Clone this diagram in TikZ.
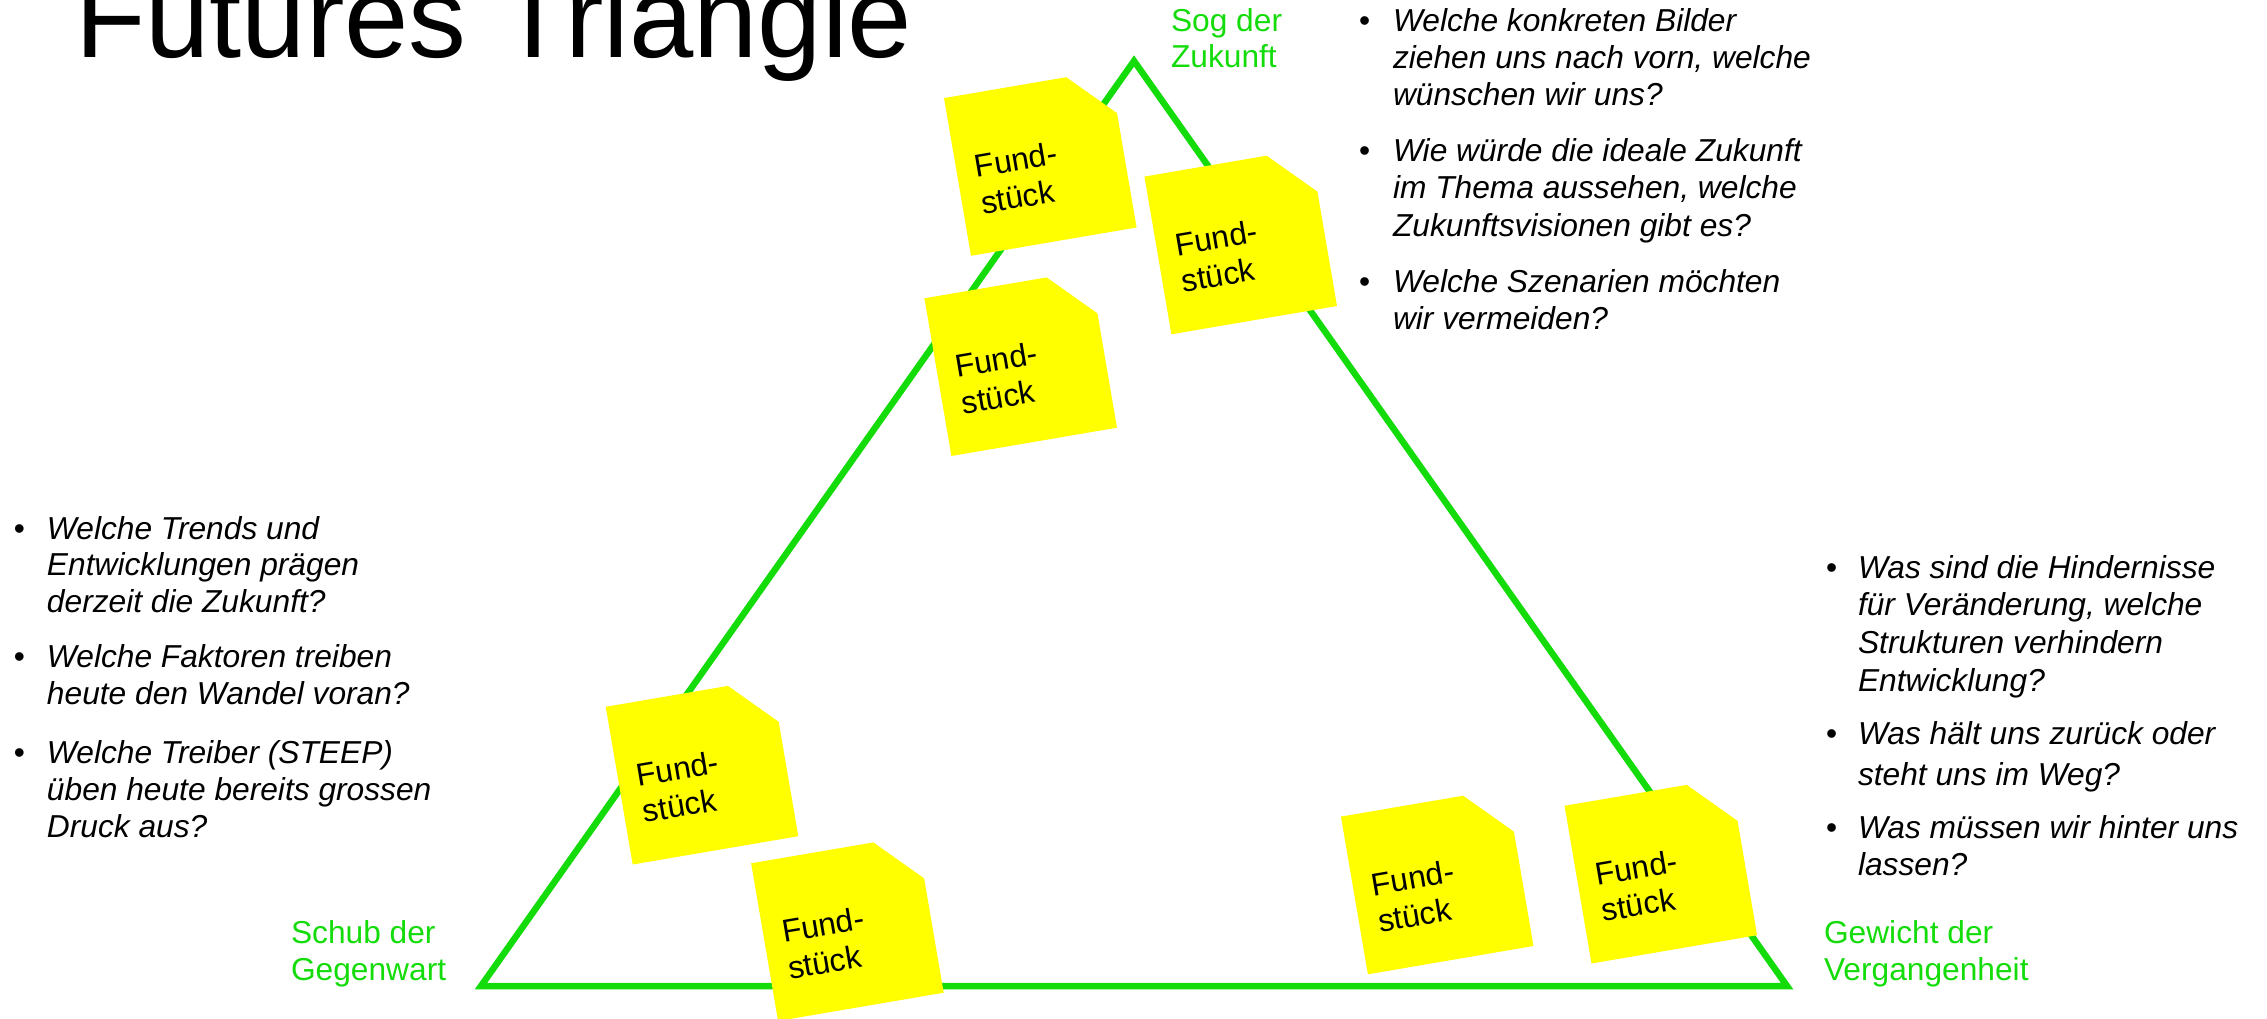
\documentclass[tikz,border=0pt]{standalone}
\usepackage{fontspec}
\setmainfont{Liberation Sans}

\definecolor{triGreen}{RGB}{20,220,10}
\definecolor{noteYellow}{RGB}{255,255,0}

\newcommand\bodyfont{\fontsize{9.02pt}{10pt}\selectfont}
\newcommand\notefont{\fontsize{9.02pt}{10.53pt}\selectfont}
\newcommand\askfont{\fontsize{9.02pt}{10pt}\selectfont\itshape}
\newcommand\headfont{\fontsize{32.86pt}{36pt}\selectfont}

\tikzset{
  textline/.style = {anchor=base west, inner sep=0pt, outer sep=0pt},
  ask/.style      = {textline, font=\askfont, text=black},
  bulletdot/.style= {textline, font=\bodyfont, text=black},
  corner/.style   = {textline, font=\bodyfont, text=triGreen},
  notetext/.style = {textline, font=\notefont, align=left, transform shape},
  % yellow note with a cut top-right corner, centred on the pic origin;
  % the text node is placed by the baseline of its last line
  sticky/.pic = {
    \fill[noteYellow] (-84,-80) -- (40,-80) -- (84,-36) -- (84,80) -- (-84,80) -- cycle;
    \node[notetext] (-text) at (-65,41) {Fund-\\stück};
  }
}

\begin{document}
\begin{tikzpicture}[x=0.01cm, y=-0.01cm]
\useasboundingbox (0,0) rectangle (2267,1019);

% title
\node[textline, font=\headfont] (title) at (75,58) {Futures Triangle};

% triangle
\coordinate (top)   at (1134,61);
\coordinate (left)  at (481,986);
\coordinate (right) at (1787,986);
\draw[triGreen, line width=0.065cm] (top) -- (left) -- (right) -- cycle;

% corner labels
\node[corner] (sog1) at (1171,32) {Sog der};
\node[corner] (sog2) at (1171,68) {Zukunft};
\node[corner] (schub1) at (291,943) {Schub der};
\node[corner] (schub2) at (291,980) {Gegenwart};
\node[corner] (gew1) at (1824,943) {Gewicht der};
\node[corner] (gew2) at (1824,980) {Vergangenheit};

% notes
\pic[rotate=9.7] (n1) at (1040.3,162.8) {sticky};
\pic[rotate=9.7] (n2) at (1240.7,241.3) {sticky};
\pic[rotate=9.7] (n3) at (1020.7,363) {sticky};
\pic[rotate=9.7] (n4) at (702,771.5) {sticky};
\pic[rotate=9.7] (n5) at (847.4,928) {sticky};
\pic[rotate=9.7] (n6) at (1437.2,881.3) {sticky};
\pic[rotate=9.7] (n7) at (1660.8,870.5) {sticky};

% questions: future
\node[bulletdot] (fb1) at (1359,32) {•};
\node[ask] (f1) at (1393,32) {Welche konkreten Bilder};
\node[ask] (f2) at (1393,69) {ziehen uns nach vorn, welche};
\node[ask] (f3) at (1393,106) {wünschen wir uns?};
\node[bulletdot] (fb2) at (1359,162) {•};
\node[ask] (f4) at (1393,162) {Wie würde die ideale Zukunft};
\node[ask] (f5) at (1393,199) {im Thema aussehen, welche};
\node[ask] (f6) at (1393,237) {Zukunftsvisionen gibt es?};
\node[bulletdot] (fb3) at (1359,293) {•};
\node[ask] (f7) at (1393,293) {Welche Szenarien möchten};
\node[ask] (f8) at (1393,330) {wir vermeiden?};

% questions: present
\node[bulletdot] (pb1) at (14,540) {•};
\node[ask] (p1) at (47,540) {Welche Trends und};
\node[ask] (p2) at (47,576) {Entwicklungen prägen};
\node[ask] (p3) at (47,613) {derzeit die Zukunft?};
\node[bulletdot] (pb2) at (14,668) {•};
\node[ask] (p4) at (47,668) {Welche Faktoren treiben};
\node[ask] (p5) at (47,705) {heute den Wandel voran?};
\node[bulletdot] (pb3) at (14,763) {•};
\node[ask] (p6) at (47,763) {Welche Treiber (STEEP)};
\node[ask] (p7) at (47,800) {üben heute bereits grossen};
\node[ask] (p8) at (47,837) {Druck aus?};

% questions: past
\node[bulletdot] (vb1) at (1826,579) {•};
\node[ask] (v1) at (1858,579) {Was sind die Hindernisse};
\node[ask] (v2) at (1858,616) {für Veränderung, welche};
\node[ask] (v3) at (1858,653) {Strukturen verhindern};
\node[ask] (v4) at (1858,692) {Entwicklung?};
\node[bulletdot] (vb2) at (1826,744) {•};
\node[ask] (v5) at (1858,744) {Was hält uns zurück oder};
\node[ask] (v6) at (1858,785) {steht uns im Weg?};
\node[bulletdot] (vb3) at (1826,838) {•};
\node[ask] (v7) at (1858,838) {Was müssen wir hinter uns};
\node[ask] (v8) at (1858,875) {lassen?};
\end{tikzpicture}
\end{document}
